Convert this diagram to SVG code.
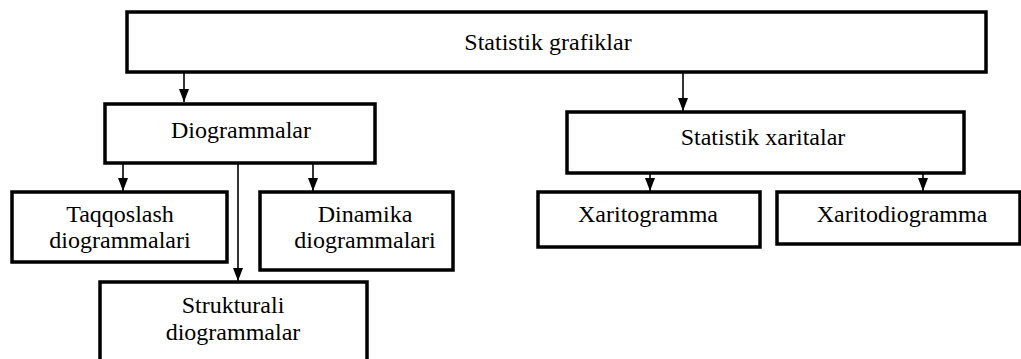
<svg xmlns="http://www.w3.org/2000/svg" width="1021" height="359" viewBox="0 0 1021 359">
  <style>
    .box { fill: #ffffff; stroke: #000000; stroke-width: 3.5; }
    .lbl { font-family: "Liberation Serif", "Times New Roman", serif; font-size: 24px; fill: #000000; text-anchor: middle; }
    .link { stroke: #000000; stroke-width: 1.6; fill: none; }
  </style>
  <defs>
    <!-- small filled arrowhead, tip sits on the line end -->
    <marker id="arrow" viewBox="0 0 13 10" refX="13" refY="5" markerWidth="13" markerHeight="10" markerUnits="userSpaceOnUse" orient="auto">
      <path d="M0,0 L13,5 L0,10 Z" fill="#000000"/>
    </marker>
  </defs>
  <rect width="1021" height="359" fill="#ffffff"/>

  <!-- connectors -->
  <g id="connectors">
    <line class="link" x1="184" y1="72" x2="184" y2="102" marker-end="url(#arrow)"/>
    <line class="link" x1="683" y1="72" x2="683" y2="111" marker-end="url(#arrow)"/>
    <line class="link" x1="123" y1="163" x2="123" y2="191" marker-end="url(#arrow)"/>
    <line class="link" x1="313" y1="163" x2="313" y2="191" marker-end="url(#arrow)"/>
    <line class="link" x1="238" y1="163" x2="238" y2="281" marker-end="url(#arrow)"/>
    <line class="link" x1="650" y1="173" x2="650" y2="191" marker-end="url(#arrow)"/>
    <line class="link" x1="923" y1="173" x2="923" y2="191" marker-end="url(#arrow)"/>
  </g>

  <g id="statistik-grafiklar">
    <rect class="box" x="127" y="12" width="859" height="60"/>
    <text class="lbl" x="548" y="50">Statistik grafiklar</text>
  </g>

  <g id="diogrammalar">
    <rect class="box" x="105" y="104" width="270" height="59"/>
    <text class="lbl" x="241" y="138">Diogrammalar</text>
  </g>

  <g id="statistik-xaritalar">
    <rect class="box" x="567" y="112" width="397" height="61"/>
    <text class="lbl" x="763" y="145">Statistik xaritalar</text>
  </g>

  <g id="taqqoslash">
    <rect class="box" x="12" y="192" width="215" height="70"/>
    <text class="lbl" x="120" y="222">Taqqoslash</text>
    <text class="lbl" x="120" y="248">diogrammalari</text>
  </g>

  <g id="dinamika">
    <rect class="box" x="260" y="192" width="193" height="78"/>
    <text class="lbl" x="365" y="222">Dinamika</text>
    <text class="lbl" x="365" y="248">diogrammalari</text>
  </g>

  <g id="strukturali">
    <rect class="box" x="100" y="282" width="267" height="90"/>
    <text class="lbl" x="233" y="313">Strukturali</text>
    <text class="lbl" x="233" y="340">diogrammalar</text>
  </g>

  <g id="xaritogramma">
    <rect class="box" x="538" y="192" width="222" height="55"/>
    <text class="lbl" x="648" y="222">Xaritogramma</text>
  </g>

  <g id="xaritodiogramma">
    <rect class="box" x="777" y="192" width="243" height="52"/>
    <text class="lbl" x="902" y="222">Xaritodiogramma</text>
  </g>
</svg>
